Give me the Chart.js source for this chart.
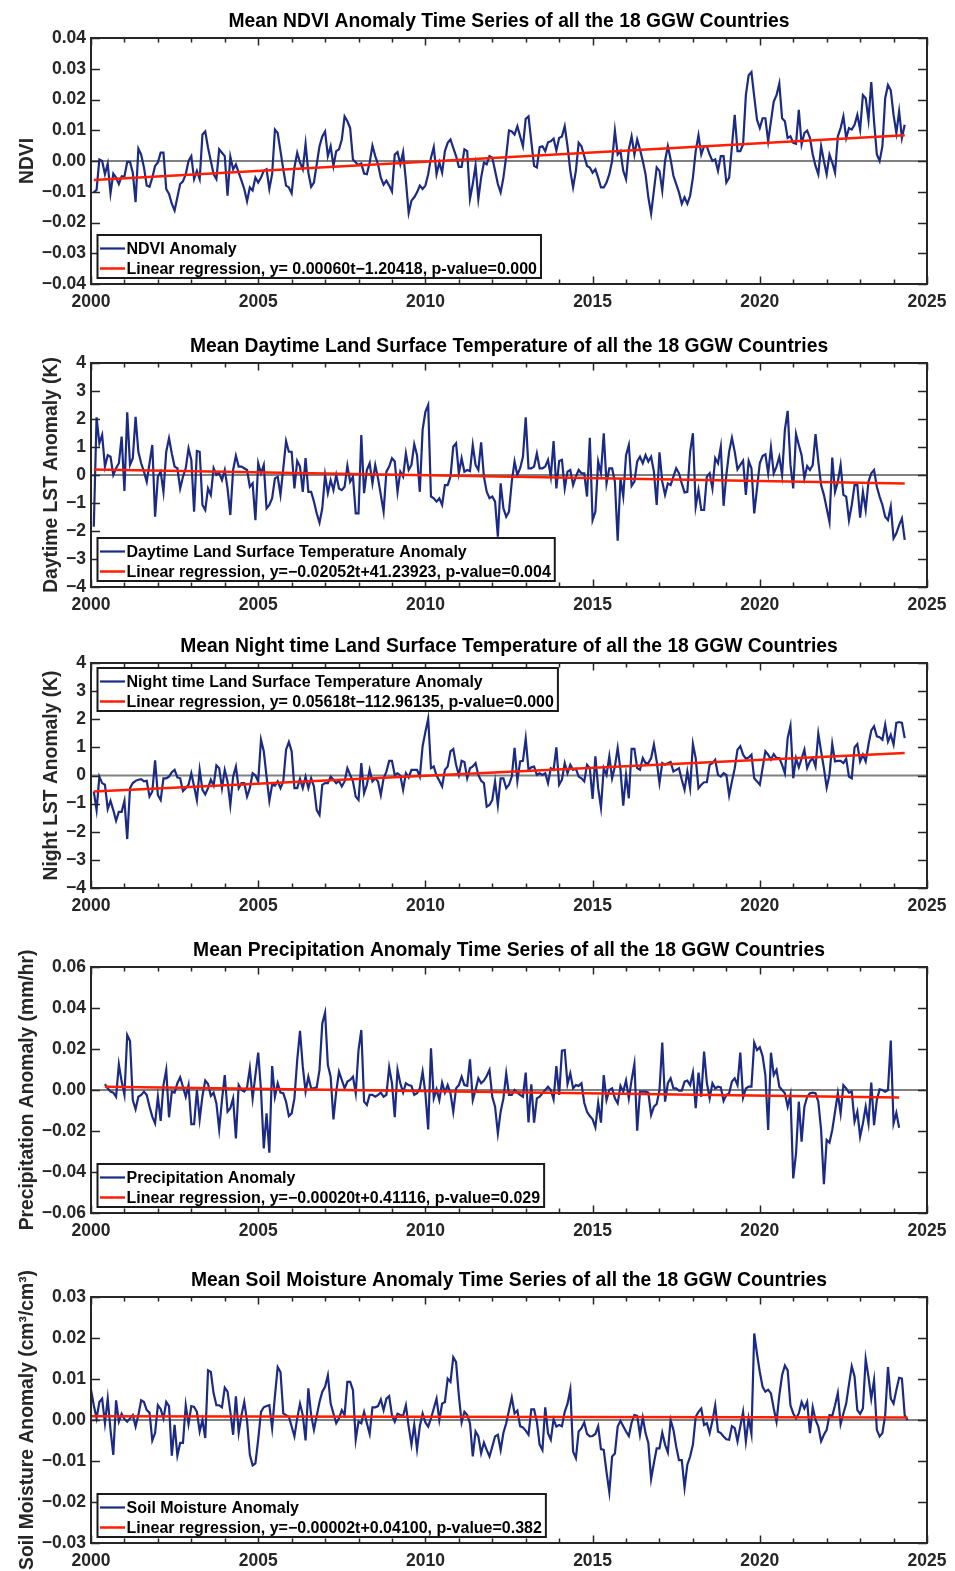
<!DOCTYPE html>
<html>
<head>
<meta charset="utf-8">
<script src="https://cdn.jsdelivr.net/npm/chart.js@4.4.1/dist/chart.umd.min.js"></script>
<style>
  html, body { margin: 0; padding: 0; background: #fff; }
  body { width: 955px; height: 1571px; position: relative; overflow: hidden; }
  canvas { position: absolute; left: 0; }
</style>
</head>
<body>
<canvas id="c1"></canvas>
<canvas id="c2"></canvas>
<canvas id="c3"></canvas>
<canvas id="c4"></canvas>
<canvas id="c5"></canvas>
<script>
// monthly anomalies, first month given by [year, month]
const ndviStart = [2000, 2];
const ndviValues = [
  -0.0102, -0.0094, 0.0005, 0, -0.0043, -0.0009, -0.0105, -0.0041, -0.0054, -0.0075, -0.0050, -0.0050,
  -0.0003, -0.0003, -0.0038, -0.0134, 0.0040, 0.0021, -0.0021, -0.0080, -0.0084, -0.0054, -0.0016, -0.0005,
  0.0027, 0.0027, -0.0091, -0.0107, -0.0139, -0.0161, -0.0118, -0.0075, -0.0066, -0.0043, 0, 0.0016,
  -0.0059, -0.0032, -0.0059, 0.0086, 0.0096, 0.0043, 0, -0.0043, -0.0059, 0.0038, 0.0027, 0.0016,
  -0.0113, 0.0014, -0.0027, -0.0011, -0.0038, -0.0064, -0.0091, -0.0131, -0.0086, -0.0096, -0.0054, -0.0070,
  -0.0054, -0.0032, -0.0027, -0.0091, -0.0043, 0.0102, 0.0091, 0.0032, -0.0027, -0.0080, -0.0086, -0.0105,
  -0.0021, 0.0027, -0.0005, -0.0027, 0.0056, -0.0038, -0.0084, -0.0070, -0.0011, 0.0048, 0.0080, 0.0096,
  0.0016, 0.0048, -0.0016, 0.0032, 0.0038, 0.0070, 0.0145, 0.0129, 0.0107, 0.0005, -0.0005, -0.0013,
  -0.0008, -0.0041, -0.0043, -0.0005, 0.0050, 0.0016, -0.0011, -0.0054, -0.0077, -0.0064, -0.0080, -0.0099,
  0.0021, 0.0029, -0.0011, 0.0029, -0.0064, -0.0169, -0.0129, -0.0118, -0.0102, -0.0080, -0.0091, -0.0080,
  -0.0043, 0.0011, 0.0045, -0.0043, -0.0005, -0.0038, 0.0032, 0.0059, 0.0070, 0.0043, 0.0016, -0.0019,
  -0.0019, 0.0038, 0.0032, -0.0123, -0.0075, -0.0014, -0.0123, -0.0054, -0.0005, -0.0011, 0.0016, 0.0011,
  -0.0032, -0.0075, -0.0102, -0.0054, 0.0016, 0.0099, 0.0096,
  0.0086, 0.0113, 0.0080, 0.0048, 0.0137, 0.0145, 0.0064, -0.0016, -0.0021, 0.0045, 0.0048, 0.0032,
  0.0061, 0.0064, 0.0073, 0.0034, 0.0075, 0.0080, 0.0113, 0.0048, -0.0032, -0.0086, -0.0032, 0.0059,
  0.0048, 0.0016, -0.0016, -0.0021, -0.0038, -0.0027, -0.0054, -0.0086, -0.0086, -0.0070, -0.0043, 0,
  0.0099, 0.0021, 0.0032, -0.0032, -0.0059, 0.0038, 0.0080, 0.0021, 0.0070, 0.0038, 0, -0.0043,
  -0.0118, -0.0171, -0.0096, -0.0021, -0.0032, -0.0096, 0, 0.0048, 0.0005, -0.0048, -0.0075, -0.0102,
  -0.0139, -0.0118, -0.0139, -0.0113, -0.0054, 0.0032, 0.0084, 0.0021, 0.0048, 0.0048, 0.0021, 0,
  0.0005, -0.0032, 0.0016, 0.0016, -0.0070, -0.0054, 0.0048, 0.0150, 0.0032, 0.0032, 0.0054, 0.0214,
  0.0279, 0.0289, 0.0209, 0.0134, 0.0107, 0.0139, 0.0139, 0.0064, 0.0129, 0.0193, 0.0214, 0.0252,
  0.0139, 0.0129, 0.0075, 0.0080, 0.0059, 0.0056, 0.0166, 0.0054, 0.0091, 0.0099, 0.0075, 0.0021,
  -0.0016, -0.0043, 0.0048, 0, -0.0043, 0.0021, -0.0005, -0.0038, 0.0080, 0.0107, 0.0145, 0.0075,
  0.0107, 0.0102, 0.0118, 0.0150, 0.0102, 0.0214, 0.0204, 0.0134, 0.0257, 0.0129, 0.0021, 0,
  0.0048, 0.0204, 0.0247, 0.0230, 0.0150, 0.0091, 0.0161, 0.0075, 0.0118
];
const ndviFit = [-0.0062, 0.0084];

const dayStart = [2000, 2];
const dayValues = [
  -1.85, 2.06, 1.13, 1.43, 0.30, 0.71, 0.65, 0, 0.24, 0.42, 1.37, -0.57,
  2.24, 0.36, 0.60, 2.08, 0.83, 0.42, 0.12, -0.24, 0.42, 1.07, -1.49, -0.06,
  0.12, -0.60, 0.83, 1.31, 0.77, 0.30, 0.24, -0.48, -0.06, 0.24, 0.95, 0.54,
  -1.31, 0.86, 0.83, -1.07, -1.25, -0.48, -0.71, 0.24, 0, 0.06, -0.18, 0.18,
  -0.48, -1.43, 0.18, 0.69, 0.30, 0.30, 0.24, 0.18, -0.42, -0.30, -1.61, 0.42,
  0.06, 0.36, -1.19, -1.07, -0.83, -0.12, -0.06, -0.71, 0.24, 1.21, 0.83, 0.83,
  -0.48, 0.50, 0.30, -0.60, 0.60, -0.60, -0.60, -0.95, -1.37, -1.70, -1.19, 0,
  -0.65, -0.18, -0.54, 0, -0.48, -0.54, -0.42, 0.33, -0.24, -0.06, -1.37, -1.37,
  1.43, -0.65, 0.18, 0.42, -0.30, 0.36, -0.12, -0.71, -1.31, 0.12, 0.30, 0.60,
  0.48, -0.60, 0.12, -0.06, 0.77, 0.18, 0.36, 1.10, 0.71, -0.60, 1.61, 2.26,
  2.50, -0.77, -0.83, -0.95, -0.83, -1.07, -0.36, -0.36, -0.06, 1.01, 1.13, 0.06,
  0.60, 0.12, 0.18, 0.14, 1.07, 0.36, 0.18, 1.17, -0.06, -0.60, -0.83, -0.77,
  -0.95, -2.20, -0.30, -1.19, -1.49, -1.31, -0.24,
  0.48, 0, 0.24, 0.65, 2.06, 0.24, 0.24, 0.30, 0.77, 0.24, 0.24, 0.30,
  0.54, -0.06, 1.21, -0.48, 0.50, 0.54, -0.48, 0.12, 0.18, -0.36, -0.06, 0.18,
  0.06, 0.06, -0.77, 1.33, -1.61, -1.31, 0.48, 0.06, 1.49, -0.30, 0.24, 0.24,
  -0.24, -2.35, -0.12, -0.77, 0.71, 1.07, -0.39, -0.24, 0.48, 0.65, 0.42, 0.71,
  0.48, 0.65, 0.12, -1.07, 0.81, -0.24, -0.71, -0.30, -0.36, -0.06, 0.24, 0.06,
  -0.30, -0.62, -0.60, 0.83, 1.49, -1.13, -0.54, -1.25, -1.25, -0.06, 0.06, -0.48,
  0.60, 0.42, 1.01, -1.10, 0, 0.83, 1.33, 0.83, 0.20, 0.36, 0.51, -0.71,
  0.50, 0.24, -1.37, -0.48, 0.42, 0.68, 0.74, 0.06, 0.98, 0.06, 0.30, 0.65,
  0, 1.61, 2.29, 0.36, -0.48, 1.46, 1.07, 0.71, -0.12, 0.32, 0.18, 0.36,
  1.46, 0.48, -0.36, -0.71, -1.19, -1.67, 0.62, -0.60, -0.24, 0.36, -0.71, -0.77,
  -1.61, -1.07, -0.36, -0.36, -1.52, -0.60, -1.25, -0.24, 0.06, 0.18, -0.42, -0.77,
  -1.07, -1.49, -1.61, -1.13, -2.26, -2.08, -1.79, -1.55, -2.32
];
const dayFit = [0.20, -0.30];

const nightStart = [2000, 2];
const nightValues = [
  -0.57, -1.23, -0.04, -0.27, -0.33, -1.19, -0.90, -1.23, -1.61, -1.29, -1.29, -0.90,
  -2.26, -0.45, -0.27, -0.19, -0.15, -0.13, -0.21, -0.19, -0.75, -0.57, 0.54, -0.69,
  -0.87, -0.10, -0.10, -0.04, 0.12, 0.20, -0.07, -0.10, -0.55, -0.45, -0.33, 0.08,
  -0.39, -0.87, 0.20, -0.51, -0.67, -0.45, -0.15, -0.36, 0.36, 0.26, -0.45, 0.20,
  -0.21, -1.05, -0.04, 0.32, -0.45, -0.27, -0.27, -0.75, -0.45, 0.08, 0, -0.21,
  1.27, 0.86, -0.04, -0.90, -0.33, -0.36, -0.21, -0.45, -0.21, 0.92, 1.19, 0.86,
  -0.45, -0.45, -0.12, -0.45, -0.04, -0.45, -0.10, -0.39, -1.23, -1.40, -0.33, -0.27,
  -0.27, -0.04, -0.15, -0.27, -0.19, -0.39, -0.21, 0.26, 0.02, -0.21, -0.75, -0.87,
  0.44, -0.63, -0.33, 0.20, -0.21, -0.10, -0.21, -0.69, -0.10, 0.14, 0.52, 0.52,
  0.02, 0.08, 0, -0.51, 0.08, -0.07, 0.20, 0.20, 0.20, -0.04, 1.04, 1.55,
  2.02, 0.26, 0.32, 0, -0.19, -0.39, 0.20, 0.32, 0.86, 0.94, 0.38, 0.02,
  0.52, 0.48, -0.10, 0.26, 0.32, 0.44, 0.02, -0.19, -0.27, -1.11, -1.05, -0.87,
  -0.21, -1.05, -0.10, -0.10, -0.45, -0.33, -0.04,
  0.98, -0.19, 0.50, 0.52, 1.31, 0.20, 0.29, 0.32, 0.02, 0.08, 0.02, 0.08,
  -0.27, 0.26, 0.20, 1.00, -0.33, -0.15, 0.44, 0.08, 0.38, 0.20, 0.24, -0.04,
  -0.10, -0.21, 0.38, 0.26, -0.83, 0.68, -0.45, -1.14, 0.26, 0.02, 0.68, -0.10,
  0.32, 0.98, 0.20, -1.07, 0.02, -0.81, 0.95, 0.95, 0.26, 0.20, 0.62, 0.44,
  0.44, 0.62, 1.10, 0.50, -0.27, 0.44, 0.38, 0.44, 0.48, 0.14, 0.20, 0.26,
  -0.15, -0.51, 0.14, -0.45, 1.12, 0.62, -0.45, -0.33, -0.24, -0.24, 0.38, 0.44,
  0.56, 0.02, -0.04, 0.08, 0.02, -0.71, -0.21, 0.26, 0.92, 1.04, 0.74, 0.60,
  0.64, 0.74, -0.10, -0.21, -0.33, 0.26, 0.86, 0.74, 0.56, 0.76, 0.62, 0.62,
  0.38, 0.08, 1.33, 1.77, -0.10, 0.62, 0.29, 0.60, 0.92, 0.26, 0.50, 0.62,
  0.32, 1.49, 0.86, 0.26, -0.43, 0.02, 1.12, 0.50, 0.52, 0.52, 0.44, 0.60,
  -0.04, -0.10, 1.00, 1.12, 0.50, 0.74, 0.50, 1.10, 1.60, 1.75, 1.39, 1.36,
  1.27, 1.81, 1.21, 1.45, 1.10, 1.87, 1.90, 1.87, 1.33
];
const nightFit = [-0.57, 0.80];

const precipStart = [2000, 6];
const precipValues = [
  0.0029, 0.0008, -0.0008, -0.0013, -0.0033, 0.0125, 0.0041, -0.0024, 0.0268, 0.0239, -0.0049, -0.0094,
  -0.0033, -0.0024, -0.0008, -0.0024, -0.0081, -0.0130, -0.0163, -0.0033, -0.0151, 0.0024, 0.0098, -0.0133,
  -0.0008, -0.0013, 0.0033, 0.0062, 0.0016, -0.0033, 0.0024, -0.0166, -0.0166, 0, -0.0143, -0.0029,
  0.0046, 0.0029, -0.0029, -0.0013, -0.0065, -0.0192, -0.0049, 0.0073, -0.0106, -0.0089, -0.0041, -0.0236,
  0.0024, 0, -0.0008, 0.0013, 0.0106, -0.0041, 0.0073, 0.0182, 0, -0.0285, -0.0114, -0.0306,
  0.0117, -0.0033, 0.0033, -0.0013, -0.0016, -0.0057, -0.0127, -0.0114, -0.0041, 0.0146, 0.0288, 0.0114,
  -0.0008, 0.0065, 0.0008, 0.0008, 0.0013, 0.0098, 0.0325, 0.0377, 0.0122, 0.0065, -0.0143, -0.0008,
  0.0089, 0.0049, 0.0008, 0.0041, 0.0049, 0.0065, -0.0016, 0.0195, 0.0293, -0.0057, -0.0073, -0.0024,
  -0.0024, -0.0033, -0.0024, -0.0013, -0.0033, -0.0024, 0.0111, 0.0033, -0.0133, 0.0098, 0.0033, -0.0013,
  0.0033, 0.0024, 0.0020, -0.0024, -0.0016, 0.0008, 0.0089, -0.0016, -0.0192, 0.0203, -0.0041, 0.0003,
  -0.0049, 0.0036, -0.0013, 0.0024, -0.0016, -0.0106, 0.0008, 0.0024, 0.0065, 0.0024, 0.0020, 0.0150,
  -0.0049, 0, 0.0057, 0.0033, 0.0046, 0.0068, 0.0098, -0.0033, -0.0081, -0.0211, -0.0106, -0.0041,
  0.0081, -0.0024, -0.0024, 0,
  -0.0013, -0.0024, -0.0033, 0.0085, -0.0158, 0.0028, -0.0159, -0.0041, -0.0033, -0.0016, 0, 0.0016,
  0, -0.0046, 0.0117, -0.0024, 0.0192, 0.0195, 0.0029, 0.0081, 0.0008, 0.0024, 0.0020, 0.0033,
  -0.0062, -0.0106, -0.0127, -0.0143, -0.0182, -0.0062, -0.0159, 0.0073, -0.0049, 0, 0.0008, -0.0041,
  -0.0065, 0.0020, -0.0008, 0.0046, -0.0041, 0.0049, 0.0127, -0.0198, -0.0008, -0.0008, -0.0008, -0.0013,
  -0.0122, -0.0081, -0.0068, 0, 0.0231, -0.0057, 0.0033, 0.0057, 0.0008, 0.0008, -0.0003, -0.0003,
  0.0041, 0.0046, 0.0024, 0.0085, -0.0089, 0.0085, -0.0033, 0.0187, 0.0036, -0.0041, 0.0033, 0.0008,
  0.0016, 0.0013, -0.0054, -0.0024, -0.0016, 0.0041, 0.0057, 0.0024, 0.0182, -0.0037, 0.0008, 0.0016,
  0.0016, 0.0231, 0.0195, 0.0208, 0.0166, 0.0073, -0.0195, 0.0182, 0.0073, 0.0098, 0.0016, 0,
  -0.0016, -0.0081, -0.0024, -0.0431, -0.0309, -0.0057, -0.0252, -0.0081, -0.0033, -0.0016, -0.0013, -0.0016,
  -0.0057, -0.0195, -0.0460, -0.0244, -0.0257, -0.0195, -0.0106, -0.0016, -0.0114, 0.0024, 0.0008, -0.0013,
  -0.0008, -0.0154, -0.0106, -0.0228, -0.0163, -0.0081, -0.0163, 0.0036, -0.0171, -0.0049, 0.0003, 0,
  -0.0008, 0, 0.0241, -0.0163, -0.0111, -0.0184
];
const precipFit = [0.0016, -0.0036];

const soilStart = [2000, 1];
const soilValues = [
  0.0074, 0.0036, 0.0004, 0.0044, 0.0052, -0.0008, 0.0052, -0.0024, -0.0085, 0.0048, -0.0004, 0.0015,
  0.0002, -0.0004, 0.0004, 0.0012, -0.0016, 0.0012, 0.0048, 0.0044, 0.0024, 0.0018, -0.0050, -0.0032,
  0.0036, 0.0027, 0.0004, 0.0044, 0.0034, -0.0087, -0.0012, -0.0087, -0.0056, -0.0056, 0.0036, -0.0010,
  0.0034, 0.0032, 0.0020, -0.0028, 0, -0.0044, 0.0121, 0.0117, 0.0065, 0.0036, 0.0036, 0.0031,
  0.0079, 0.0069, 0.0020, -0.0036, 0.0058, -0.0031, 0.0012, 0.0044, -0.0002, -0.0085, -0.0111, -0.0106,
  -0.0048, 0.0020, 0.0031, 0.0034, 0.0036, -0.0020, 0.0058, 0.0129, 0.0117, 0.0016, 0.0012, 0.0008,
  -0.0016, -0.0040, 0.0004, 0.0040, 0.0012, -0.0050, 0.0077, 0.0012, -0.0024, 0.0010, 0.0044, 0.0069,
  0.0081, 0.0109, 0.0040, 0.0016, -0.0008, 0.0004, 0.0024, 0.0012, 0.0093, 0.0093, 0.0073, -0.0048,
  -0.0004, -0.0008, 0.0020, -0.0008, -0.0034, 0.0031, 0.0031, 0.0034, 0.0050, 0.0024, 0.0052, 0.0058,
  0.0012, -0.0004, 0.0015, 0.0012, 0.0010, 0.0036, -0.0016, -0.0060, -0.0012, -0.0071, -0.0015, 0.0016,
  -0.0006, -0.0016, 0.0004, 0.0028, 0.0052, 0, 0.0040, 0.0044, 0.0101, 0.0093, 0.0153, 0.0141,
  0.0060, -0.0006, 0.0020, 0.0012, -0.0008, -0.0089, -0.0028, -0.0040, -0.0081, -0.0055, -0.0073, -0.0089,
  -0.0065, -0.0040, -0.0036, -0.0073, -0.0031, -0.0008, 0.0024, 0.0055, 0.0016,
  0.0023, -0.0015, -0.0018, -0.0026, -0.0036, 0.0026, 0.0026, -0.0004, -0.0060, -0.0073, 0.0031, -0.0032,
  -0.0048, 0.0002, -0.0016, -0.0012, -0.0015, 0.0020, 0.0040, 0.0074, -0.0077, -0.0093, -0.0028, -0.0020,
  -0.0006, -0.0034, -0.0040, -0.0039, -0.0034, -0.0015, -0.0071, -0.0073, -0.0127, -0.0176, -0.0089, -0.0082,
  -0.0016, -0.0002, -0.0015, -0.0028, -0.0039, -0.0006, 0.0012, 0.0010, -0.0036, 0.0006, -0.0032, -0.0056,
  -0.0144, -0.0105, -0.0069, -0.0069, -0.0031, -0.0060, -0.0079, 0, -0.0024, -0.0065, -0.0098, -0.0098,
  -0.0165, -0.0109, -0.0089, -0.0060, 0.0008, 0.0020, 0.0028, -0.0012, -0.0008, -0.0032, -0.0002, 0.0036,
  -0.0028, -0.0032, -0.0040, -0.0047, -0.0048, -0.0015, -0.0020, -0.0052, -0.0016, 0.0020, -0.0052, 0.0004,
  -0.0034, 0.0211, 0.0161, 0.0117, 0.0081, 0.0069, 0.0074, 0.0065, 0.0028, -0.0004, 0.0060, 0.0109,
  0.0133, 0.0121, 0.0036, 0.0016, 0.0004, 0.0016, 0.0044, 0.0028, 0.0044, -0.0032, 0.0031, 0,
  -0.0016, -0.0052, -0.0036, -0.0024, 0.0012, 0.0010, 0.0036, 0.0066, -0.0010, 0.0016, 0.0040, 0.0087,
  0.0131, 0.0106, 0.0024, 0.0015, 0.0028, 0.0149, 0.0105, 0.0052, 0.0097, -0.0024, -0.0040, -0.0032,
  0.0012, 0.0129, 0.0052, 0.0040, 0.0073, 0.0103, 0.0101, 0.0012, 0
];
const soilFit = [0.0009, 0.0006];

const xRange = [2000, 2025];
const xTickStep = 5;

const FONT = '"Liberation Sans", Arial, Helvetica, sans-serif';
const BLUE = '#1b2a84';
const RED = '#ff1e00';
const GRAY = '#808080';
const AXIS = '#262626';

const panels = [
  { id: 'c1', top: 38, height: 246, start: ndviStart, values: ndviValues, fit: ndviFit,
    y: [-0.04, 0.04, 0.01], digits: 2, yLabel: 'NDVI', yLabelX: 28, legendAt: 'bottom',
    title: 'Mean NDVI Anomaly Time Series of all the 18 GGW Countries',
    names: ['NDVI Anomaly', 'Linear regression, y= 0.00060t\u22121.20418, p-value=0.000'] },
  { id: 'c2', top: 363, height: 224, start: dayStart, values: dayValues, fit: dayFit,
    y: [-4, 4, 1], digits: 0, yLabel: 'Daytime LST Anomaly (K)', yLabelX: 52, legendAt: 'bottom',
    title: 'Mean Daytime Land Surface Temperature of all the 18 GGW Countries',
    names: ['Daytime Land Surface Temperature Anomaly', 'Linear regression, y=\u22120.02052t+41.23923, p-value=0.004'] },
  { id: 'c3', top: 663, height: 225, start: nightStart, values: nightValues, fit: nightFit,
    y: [-4, 4, 1], digits: 0, yLabel: 'Night LST Anomaly (K)', yLabelX: 52, legendAt: 'top',
    title: 'Mean Night time Land Surface Temperature of all the 18 GGW Countries',
    names: ['Night time Land Surface Temperature Anomaly', 'Linear regression, y= 0.05618t\u2212112.96135, p-value=0.000'] },
  { id: 'c4', top: 967, height: 246, start: precipStart, values: precipValues, fit: precipFit,
    y: [-0.06, 0.06, 0.02], digits: 2, yLabel: 'Precipitation Anomaly (mm/hr)', yLabelX: 28, legendAt: 'bottom',
    title: 'Mean Precipitation Anomaly Time Series of all the 18 GGW Countries',
    names: ['Precipitation Anomaly', 'Linear regression, y=\u22120.00020t+0.41116, p-value=0.029'] },
  { id: 'c5', top: 1297, height: 246, start: soilStart, values: soilValues, fit: soilFit,
    y: [-0.03, 0.03, 0.01], digits: 2, yLabel: 'Soil Moisture Anomaly (cm\u00b3/cm\u00b3)', yLabelX: 28, legendAt: 'bottom',
    title: 'Mean Soil Moisture Anomaly Time Series of all the 18 GGW Countries',
    names: ['Soil Moisture Anomaly', 'Linear regression, y=\u22120.00002t+0.04100, p-value=0.382'] }
];

const PAD_TOP = 38;
const X_AXIS_H = 28;
const Y_AXIS_W = 91;
const PAD_RIGHT = 28;

function monthly(start, values) {
  return values.map((v, i) => ({ x: start[0] + (start[1] - 1 + i) / 12, y: v }));
}

function fmt(v, d) {
  const s = Math.abs(v).toFixed(d);
  return (v < -1e-9 ? '\u2212' : '') + s;
}

// box, inward ticks, title and y label in the MATLAB look
const framePlugin = {
  id: 'frame',
  afterDatasetsDraw(chart, args, opts) {
    const { ctx, chartArea: a, scales } = chart;
    ctx.save();
    ctx.strokeStyle = AXIS;
    ctx.lineWidth = 1.5;
    ctx.beginPath();
    scales.y.ticks.forEach(t => {
      const py = Math.round(scales.y.getPixelForValue(t.value)) + 0.5;
      ctx.moveTo(a.left, py); ctx.lineTo(a.left + 9, py);
      ctx.moveTo(a.right, py); ctx.lineTo(a.right - 9, py);
    });
    for (let yr = scales.x.min; yr <= scales.x.max; yr++) {
      const len = yr % xTickStep === 0 ? 7.5 : 4.5;
      const px = Math.round(scales.x.getPixelForValue(yr)) + 0.5;
      ctx.moveTo(px, a.top); ctx.lineTo(px, a.top + len);
      ctx.moveTo(px, a.bottom); ctx.lineTo(px, a.bottom - len);
    }
    ctx.stroke();
    ctx.lineWidth = 2;
    ctx.strokeRect(a.left, a.top, a.right - a.left, a.bottom - a.top);

    ctx.fillStyle = '#000';
    ctx.font = `bold 19.3px ${FONT}`;
    ctx.textAlign = 'center';
    ctx.textBaseline = 'alphabetic';
    ctx.fillText(opts.title, (a.left + a.right) / 2, a.top - 11);

    ctx.translate(opts.yLabelX, (a.top + a.bottom) / 2);
    ctx.rotate(-Math.PI / 2);
    ctx.textBaseline = 'middle';
    ctx.fillStyle = AXIS;
    ctx.fillText(opts.yLabel, 0, 0);
    ctx.restore();
  },
  afterDraw(chart, args, opts) {
    const { ctx, chartArea: a } = chart;
    const ds = chart.data.datasets;
    const items = [ds[1], ds[0]];
    ctx.save();
    ctx.font = `bold 16px ${FONT}`;
    const w = Math.max(...items.map(d => ctx.measureText(d.label).width));
    const left = a.left + 6.5;
    const h = 43;
    const top = opts.legendAt === 'top' ? a.top + 5 : a.bottom - 6 - h;
    const boxW = 29 + w + 4;
    ctx.fillStyle = '#fff';
    ctx.fillRect(left, top, boxW, h);
    ctx.strokeStyle = '#1a1a1a';
    ctx.lineWidth = 2;
    ctx.strokeRect(left, top, boxW, h);
    items.forEach((d, i) => {
      const yy = top + 13.5 + i * 20;
      ctx.strokeStyle = d.borderColor;
      ctx.lineWidth = d.borderWidth;
      ctx.beginPath();
      ctx.moveTo(left + 2.5, yy); ctx.lineTo(left + 27.5, yy);
      ctx.stroke();
      ctx.fillStyle = '#000';
      ctx.textAlign = 'left';
      ctx.textBaseline = 'middle';
      ctx.fillText(d.label, left + 29, yy + 1);
    });
    ctx.restore();
  }
};

panels.forEach(p => {
  const canvas = document.getElementById(p.id);
  canvas.width = 955;
  canvas.height = p.height + PAD_TOP + X_AXIS_H;
  canvas.style.top = (p.top - PAD_TOP) + 'px';

  const series = monthly(p.start, p.values);
  const fitLine = [
    { x: series[0].x, y: p.fit[0] },
    { x: series[series.length - 1].x, y: p.fit[1] }
  ];
  const zeroLine = [{ x: xRange[0], y: 0 }, { x: xRange[1], y: 0 }];

  new Chart(canvas, {
    type: 'line',
    data: {
      datasets: [
        { label: p.names[1], data: fitLine, borderColor: RED, borderWidth: 2.5, pointRadius: 0 },
        { label: p.names[0], data: series, borderColor: BLUE, borderWidth: 2.2, pointRadius: 0 },
        { label: 'zero', data: zeroLine, borderColor: GRAY, borderWidth: 2, pointRadius: 0 }
      ]
    },
    options: {
      responsive: false,
      animation: false,
      events: [],
      layout: { padding: { left: 0, right: PAD_RIGHT, top: PAD_TOP, bottom: 0 } },
      plugins: {
        legend: { display: false },
        tooltip: { enabled: false },
        frame: { title: p.title, yLabel: p.yLabel, yLabelX: p.yLabelX, legendAt: p.legendAt }
      },
      scales: {
        x: {
          type: 'linear', min: xRange[0], max: xRange[1],
          grid: { display: false, drawTicks: false }, border: { display: false },
          ticks: { stepSize: xTickStep, padding: 8, autoSkip: false, maxRotation: 0,
            color: AXIS, font: { family: FONT, size: 17.5, weight: 'bold' },
            callback: v => String(v) },
          afterFit: s => { s.height = X_AXIS_H; }
        },
        y: {
          min: p.y[0], max: p.y[1],
          grid: { display: false, drawTicks: false }, border: { display: false },
          ticks: { stepSize: p.y[2], padding: 5, autoSkip: false,
            color: AXIS, font: { family: FONT, size: 17.5, weight: 'bold' },
            callback: v => fmt(v, p.digits) },
          afterFit: s => { s.width = Y_AXIS_W; }
        }
      }
    },
    plugins: [framePlugin]
  });
});
</script>
</body>
</html>
